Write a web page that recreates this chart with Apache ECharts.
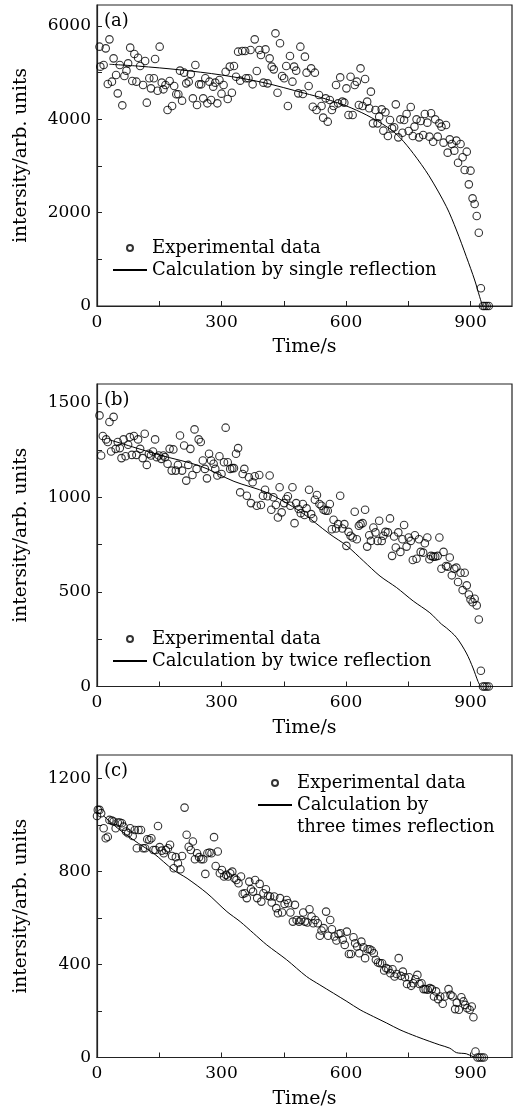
<!DOCTYPE html>
<html>
<head>
<meta charset="utf-8">
<script src="https://cdn.jsdelivr.net/npm/echarts@6/dist/echarts.min.js"></script>
<style>
html,body{margin:0;padding:0;background:#fff;}
#chart{width:515px;height:1113px;}
</style>
</head>
<body>
<div id="chart"></div>
<script>
// ---------- data ----------
const xTicks = [0, 150, 300, 450, 600, 750, 900];
const xLabels = [0, 300, 600, 900];
const yTicksA = [0, 1000, 2000, 3000, 4000, 5000, 6000];
const yLabelsA = [0, 2000, 4000, 6000];
const yTicksB = [0, 250, 500, 750, 1000, 1250, 1500];
const yLabelsB = [0, 500, 1000, 1500];
const yTicksC = [0, 200, 400, 600, 800, 1000, 1200];
const yLabelsC = [0, 400, 800, 1200];
const panelLabels = ['(a)', '(b)', '(c)'];
const legendExp = 'Experimental data';
const legendA = 'Calculation by single reflection';
const legendB = 'Calculation by twice reflection';
const legendC = 'Calculation by three times reflection';
const xName = 'Time/s';
const yName = 'intersity/arb. units';

const expA = [[6,5557],[8,5129],[16,5164],[21,5521],[26,4757],[30,5714],[36,4807],[40,5307],[46,4950],[50,4557],[55,5164],[61,4300],[66,4929],[71,5043],[75,5200],[80,5536],[85,4821],[90,5400],[95,4807],[99,5321],[104,5143],[111,4736],[116,5250],[120,4357],[126,4879],[130,4664],[137,4879],[140,5293],[146,4614],[151,5557],[156,4786],[160,4643],[165,4736],[170,4200],[175,4821],[181,4286],[186,4714],[191,4536],[196,4536],[200,5043],[205,4400],[210,5000],[215,4771],[221,4807],[226,4971],[231,4450],[237,5164],[241,4307],[246,4750],[251,4750],[256,4450],[261,4879],[266,4343],[271,4807],[275,4414],[280,4700],[285,4786],[290,4343],[295,4843],[300,4550],[305,4736],[310,5021],[315,4436],[320,5129],[325,4571],[330,5143],[335,4914],[340,5450],[345,4829],[350,5464],[357,5464],[359,4879],[365,4879],[370,5486],[375,4750],[380,5714],[385,5036],[391,5486],[395,5379],[401,4786],[406,5500],[411,4771],[416,5307],[421,5129],[426,5071],[430,5843],[435,4571],[441,5629],[446,4929],[451,4879],[456,5143],[460,4286],[465,5357],[471,4807],[475,5129],[480,5043],[485,4557],[490,5557],[496,4543],[501,5343],[505,5000],[510,4714],[516,5093],[520,4271],[525,5000],[529,4200],[535,4521],[541,4286],[545,4036],[551,4450],[556,3950],[561,4414],[566,4200],[570,4286],[576,4736],[581,4343],[586,4900],[591,4379],[596,4357],[601,4664],[606,4093],[611,4914],[616,4093],[621,4736],[626,4807],[631,4307],[635,5093],[640,4286],[646,4864],[651,4379],[656,4236],[660,4593],[665,3914],[671,4200],[676,3914],[680,4057],[686,4214],[690,3757],[695,4150],[701,3643],[706,3986],[711,3807],[716,3829],[720,4321],[726,3614],[731,4000],[736,3714],[740,3986],[746,4114],[751,3750],[756,4264],[761,3643],[765,3843],[770,4000],[776,3614],[780,3964],[786,3664],[790,4114],[796,3929],[801,3629],[805,4129],[810,3521],[815,4000],[821,3629],[825,3914],[830,3843],[835,3500],[841,3879],[845,3286],[850,3571],[855,3471],[861,3329],[866,3543],[870,3071],[876,3471],[881,3186],[886,2914],[891,3307],[896,2607],[900,2900],[905,2307],[910,2186],[915,1929],[920,1571],[925,379],[930,0],[934,0],[939,0],[944,0]];

const calcA = [[30,5180],[100,5140],[200,5060],[300,4950],[400,4790],[500,4560],[550,4440],[600,4290],[650,4090],[700,3830],[730,3610],[762,3270],[800,2790],[842,2128],[866,1629],[890,1057],[910,557],[922,199],[929,0]];

const expB = [[6,1434],[10,1222],[14,1325],[22,1307],[26,1293],[30,1399],[34,1243],[40,1426],[45,1257],[50,1293],[55,1261],[59,1208],[64,1307],[69,1218],[75,1279],[79,1319],[84,1225],[89,1325],[95,1225],[99,1307],[104,1257],[110,1208],[115,1337],[120,1172],[125,1231],[130,1222],[135,1243],[140,1307],[144,1213],[149,1222],[155,1204],[160,1222],[164,1213],[170,1178],[175,1257],[180,1142],[184,1254],[190,1142],[195,1172],[200,1328],[205,1142],[210,1275],[215,1089],[220,1172],[225,1257],[230,1119],[235,1360],[240,1151],[245,1307],[250,1293],[255,1195],[260,1151],[265,1101],[270,1231],[275,1195],[281,1178],[285,1151],[290,1116],[295,1218],[300,1124],[306,1186],[310,1369],[315,1186],[321,1151],[326,1155],[330,1155],[335,1231],[340,1261],[345,1027],[351,1124],[355,1151],[361,1009],[366,1107],[371,970],[375,1080],[380,1112],[385,956],[391,1119],[395,960],[400,1009],[405,1041],[411,1006],[416,1116],[420,935],[425,1001],[431,960],[436,894],[440,1054],[445,921],[451,970],[456,992],[460,1006],[466,956],[471,1054],[476,864],[480,970],[486,939],[491,917],[496,965],[500,907],[505,942],[511,1041],[516,912],[521,889],[525,988],[530,1013],[536,965],[541,956],[546,935],[551,930],[556,930],[561,965],[566,832],[570,882],[576,836],[581,859],[586,1009],[591,836],[596,859],[601,744],[606,818],[611,797],[616,788],[621,924],[626,779],[631,850],[635,859],[640,864],[646,935],[651,740],[656,800],[660,770],[666,841],[671,815],[676,770],[680,877],[686,770],[690,797],[695,818],[701,815],[706,889],[711,691],[716,793],[720,735],[726,815],[731,712],[736,779],[740,854],[746,740],[751,788],[756,770],[761,669],[766,800],[770,676],[776,779],[780,712],[786,708],[790,758],[796,788],[801,673],[805,691],[810,687],[815,687],[821,691],[825,788],[830,623],[835,712],[841,637],[845,634],[850,682],[855,588],[861,623],[866,629],[870,553],[876,602],[881,510],[886,602],[891,535],[896,487],[900,460],[905,446],[910,464],[915,429],[920,354],[925,83],[930,0],[934,0],[939,0],[944,0]];

const calcB = [[30,1305],[150,1225],[250,1165],[330,1085],[410,1025],[490,925],[561,806],[602,744],[642,664],[682,584],[722,523],[762,452],[802,390],[830,330],[842,310],[866,260],[890,177],[906,98],[918,27],[924,0]];

const expC = [[0,1038],[2,1064],[6,1064],[10,1050],[16,985],[21,942],[26,949],[30,1021],[36,1018],[40,1014],[45,985],[50,1010],[55,1010],[60,1007],[64,992],[70,971],[75,964],[80,985],[86,952],[91,978],[96,899],[100,978],[106,978],[111,899],[116,899],[121,938],[126,935],[131,942],[136,892],[141,892],[147,995],[151,904],[156,889],[161,878],[166,892],[171,899],[176,914],[181,866],[185,813],[190,861],[195,835],[201,809],[205,866],[211,1074],[216,957],[221,906],[226,892],[231,928],[236,852],[241,878],[246,861],[251,852],[256,852],[261,789],[266,878],[271,881],[276,878],[282,947],[286,823],[291,885],[296,792],[301,806],[306,778],[311,785],[316,778],[321,792],[326,799],[331,770],[336,763],[341,749],[347,778],[351,703],[356,706],[361,685],[367,756],[371,723],[376,713],[381,763],[386,685],[392,746],[396,670],[401,706],[407,723],[412,695],[417,692],[421,666],[427,692],[432,642],[436,620],[441,685],[446,623],[452,660],[457,677],[461,663],[466,623],[472,584],[477,656],[481,591],[487,584],[492,591],[497,623],[501,584],[507,580],[512,637],[517,606],[521,577],[526,591],[532,577],[537,523],[541,546],[546,556],[552,627],[557,523],[562,591],[566,551],[572,520],[577,503],[582,531],[587,534],[592,506],[597,484],[602,541],[607,445],[612,445],[618,517],[622,491],[627,477],[632,448],[637,498],[642,474],[646,427],[652,465],[657,465],[662,460],[667,448],[672,420],[677,408],[682,405],[687,405],[692,374],[697,384],[702,379],[707,362],[712,379],[717,348],[722,359],[727,427],[732,351],[737,369],[742,345],[747,316],[752,345],[757,308],[762,319],[767,336],[772,355],[777,316],[782,319],[787,294],[792,294],[797,291],[802,298],[807,294],[812,262],[817,284],[822,251],[827,262],[833,231],[838,262],[847,294],[852,269],[857,262],[863,208],[867,236],[872,205],[878,259],[883,241],[887,226],[892,212],[898,205],[903,219],[907,173],[912,26],[917,0],[922,0],[927,0],[932,0]];

const calcC = [[15,1040],[50,985],[100,920],[136,878],[184,806],[217,770],[265,706],[313,627],[345,584],[377,534],[409,484],[457,420],[505,348],[537,312],[570,276],[602,241],[634,205],[666,176],[698,148],[730,119],[770,90],[802,69],[826,54],[850,40],[866,21],[890,16],[906,4],[922,0]];

// ---------- chart ----------
const FONT = 'DejaVu Serif';
const chart = echarts.init(document.getElementById('chart'), null, {renderer: 'canvas'});

const grids = [
  {left: 97, right: 3, top: 5, height: 301},
  {left: 97, right: 3, top: 384, height: 302.5},
  {left: 97, right: 3, top: 755, height: 302.5}
];
const plain = v => String(v);

function xAxisCfg(i) {
  return {
    gridIndex: i, type: 'value', min: 0, max: 1000, interval: 150,
    name: xName, nameLocation: 'middle', nameGap: 32,
    nameTextStyle: {fontFamily: FONT, fontSize: 19, color: '#000'},
    axisLine: {show: true, lineStyle: {color: '#222', width: 1.2}},
    axisTick: {show: true, inside: true, length: 5, customValues: xTicks, lineStyle: {color: '#222', width: 1}},
    axisLabel: {customValues: xLabels, formatter: plain, margin: 8, fontFamily: FONT, fontSize: 17, color: '#000'},
    splitLine: {show: false}
  };
}
function yAxisCfg(i, max, ticks, labels, interval) {
  return {
    gridIndex: i, type: 'value', min: 0, max: max, interval: interval,
    name: yName, nameLocation: 'middle', nameGap: 66,
    nameTextStyle: {fontFamily: FONT, fontSize: 18.5, color: '#000'},
    axisLine: {show: true, lineStyle: {color: '#222', width: 1.2}},
    axisTick: {show: true, inside: true, length: 5, customValues: ticks, lineStyle: {color: '#222', width: 1}},
    axisLabel: {customValues: labels, formatter: plain, margin: 6, fontFamily: FONT, fontSize: 17, color: '#000'},
    splitLine: {show: false}
  };
}

function scatterSeries(i, data) {
  return {
    type: 'scatter', name: legendExp, xAxisIndex: i, yAxisIndex: i, data: data,
    symbol: 'circle', symbolSize: 7.5, z: 3,
    itemStyle: {color: 'rgba(0,0,0,0)', borderColor: '#000', borderWidth: 1.1}
  };
}
function lineSeries(i, name, data) {
  return {
    type: 'line', name: name, xAxisIndex: i, yAxisIndex: i, data: data,
    symbol: 'none', showSymbol: false, smooth: 0.3, z: 2,
    lineStyle: {color: '#000', width: 1},
    itemStyle: {color: '#000'}
  };
}

const legendText = {fontFamily: FONT, fontSize: 18, color: '#000', lineHeight: 20};
function legendCfg(left, top, items, gap) {
  return {
    orient: 'vertical', left: left, top: top, padding: 0, itemGap: gap,
    itemWidth: 34, itemHeight: 6, selectedMode: false,
    data: items,
    formatter: function (n) {
      return n === legendC ? '{s| }\n{t|Calculation by}\n{t|three times reflection}' : n;
    },
    textStyle: Object.assign({}, legendText, {
      rich: {
        s: {fontFamily: FONT, fontSize: 18, lineHeight: 22, color: '#000'},
        t: {fontFamily: FONT, fontSize: 18, lineHeight: 22, color: '#000'}
      }
    })
  };
}
const lineItem = n => ({name: n, itemStyle: {opacity: 0}});

const option = {
  backgroundColor: '#fff',
  animation: false,
  grid: grids.map(g => Object.assign({show: true, borderColor: '#222', borderWidth: 1.2, backgroundColor: 'rgba(0,0,0,0)'}, g)),
  xAxis: [xAxisCfg(0), xAxisCfg(1), xAxisCfg(2)],
  yAxis: [
    yAxisCfg(0, 6450, yTicksA, yLabelsA, 1000),
    yAxisCfg(1, 1600, yTicksB, yLabelsB, 250),
    yAxisCfg(2, 1300, yTicksC, yLabelsC, 200)
  ],
  legend: [
    legendCfg(112, 238, [legendExp, lineItem(legendA)], 2),
    legendCfg(112, 629, [legendExp, lineItem(legendB)], 2),
    legendCfg(271, 773, [legendExp], 2),
    legendCfg(257, 772, [lineItem(legendC)], 2)
  ],
  graphic: panelLabels.map((t, i) => ({
    type: 'text', left: 104, top: [12, 391, 762][i], silent: true,
    style: {text: t, fontFamily: FONT, fontSize: 18, fill: '#000'}
  })),
  series: [
    lineSeries(0, legendA, calcA), scatterSeries(0, expA),
    lineSeries(1, legendB, calcB), scatterSeries(1, expB),
    lineSeries(2, legendC, calcC), scatterSeries(2, expC)
  ]
};
chart.setOption(option);
</script>
</body>
</html>
